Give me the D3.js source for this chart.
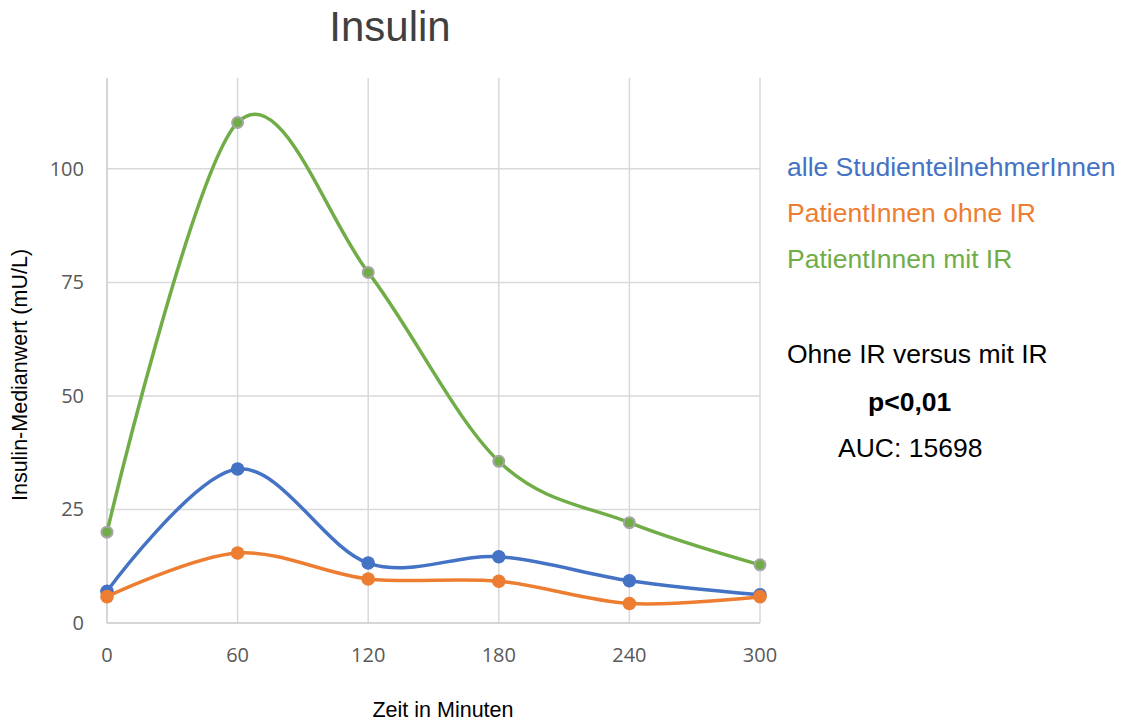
<!DOCTYPE html>
<html>
<head>
<meta charset="utf-8">
<script src="https://cdn.jsdelivr.net/npm/d3@7"></script>
<style>
  body { margin: 0; background: #fff; }
  svg { display: block; }
</style>
</head>
<body>
<svg id="chart" width="1127" height="724"></svg>
<script>
// Daten
const zeiten = [0, 60, 120, 180, 240, 300];
const alle = [7.0, 33.9, 13.2, 14.6, 9.3, 6.2];
const ohneIR = [5.8, 15.4, 9.7, 9.2, 4.3, 5.8];
const mitIR = [20.0, 110.2, 77.2, 35.6, 22.1, 12.8];
const yTicks = [0, 25, 50, 75, 100];
const serienNamen = ["alle StudienteilnehmerInnen", "PatientInnen ohne IR", "PatientInnen mit IR"];

const farben = ["#4472C4", "#ED7D31", "#70AD47"];
const serien = [alle, ohneIR, mitIR];

const svg = d3.select("#chart");
const margin = { top: 78, left: 107, right: 367, bottom: 101 };
const width = 1127, height = 724;
const arial = "'Liberation Sans', Arial, sans-serif";

const x = d3.scaleLinear().domain([0, 300]).range([margin.left, width - margin.right]);
const y = d3.scaleLinear().domain([0, 120]).range([height - margin.bottom, margin.top]);

// Gitterlinien
const grid = svg.append("g");
grid.selectAll("line.h")
  .data(yTicks.filter(d => d > 0))
  .enter().append("line")
  .attr("x1", x(0)).attr("x2", x(300))
  .attr("y1", d => y(d)).attr("y2", d => y(d))
  .attr("stroke", "#d9d9d9").attr("stroke-width", 1.5);
grid.selectAll("line.v")
  .data(zeiten)
  .enter().append("line")
  .attr("x1", d => x(d)).attr("x2", d => x(d))
  .attr("y1", y(0)).attr("y2", y(120))
  .attr("stroke", d => d === 0 ? "#c8c8c8" : "#d9d9d9").attr("stroke-width", 1.5);
grid.append("line")
  .attr("x1", x(0)).attr("x2", x(300))
  .attr("y1", y(0)).attr("y2", y(0))
  .attr("stroke", "#c8c8c8").attr("stroke-width", 1.5);

// Achsenbeschriftungen
const tickFont = "'Open Sans', sans-serif";
svg.append("g").selectAll("text")
  .data(yTicks)
  .enter().append("text")
  .attr("x", 84).attr("y", d => y(d) + 7)
  .attr("text-anchor", "end")
  .attr("font-family", tickFont).attr("font-size", 20)
  .attr("fill", "#595959")
  .text(d => d);
svg.append("g").selectAll("text")
  .data(zeiten)
  .enter().append("text")
  .attr("x", d => x(d)).attr("y", 662)
  .attr("text-anchor", "middle")
  .attr("font-family", tickFont).attr("font-size", 20)
  .attr("fill", "#595959")
  .text(d => d);

// Linien (geglättet wie in Excel)
const linie = d3.line()
  .x((d, i) => x(zeiten[i]))
  .y(d => y(d))
  .curve(d3.curveCardinal.tension(0));

serien.forEach((s, k) => {
  const g = svg.append("g");
  g.append("path")
    .attr("d", linie(s))
    .attr("fill", "none")
    .attr("stroke", farben[k])
    .attr("stroke-width", 3.5)
    .attr("stroke-linecap", "round");
  g.selectAll("circle")
    .data(s)
    .enter().append("circle")
    .attr("cx", (d, i) => x(zeiten[i]))
    .attr("cy", d => y(d))
    .attr("r", k === 2 ? 5.5 : 6.8)
    .attr("fill", farben[k])
    .attr("stroke", k === 2 ? "#a5a5a5" : "none")
    .attr("stroke-width", 2);
});

// Titel
svg.append("text")
  .attr("x", 390).attr("y", 41)
  .attr("text-anchor", "middle")
  .attr("font-family", arial)
  .attr("font-size", 42)
  .attr("fill", "#404040")
  .text("Insulin");

// Achsentitel
svg.append("text")
  .attr("transform", "translate(27,375) rotate(-90)")
  .attr("text-anchor", "middle")
  .attr("font-family", arial)
  .attr("font-size", 21.5)
  .attr("fill", "#000")
  .text("Insulin-Medianwert (mU/L)");
svg.append("text")
  .attr("x", 443).attr("y", 717)
  .attr("text-anchor", "middle")
  .attr("font-family", arial)
  .attr("font-size", 21.5)
  .attr("fill", "#000")
  .text("Zeit in Minuten");

// Legende
svg.append("g").selectAll("text")
  .data(serienNamen)
  .enter().append("text")
  .attr("x", 787).attr("y", (d, i) => 175.5 + i * 46.3)
  .attr("font-family", arial)
  .attr("font-size", 26.5)
  .attr("fill", (d, i) => farben[i])
  .text(d => d);

// Statistik
const stat = svg.append("g")
  .attr("font-family", arial)
  .attr("font-size", 26.5)
  .attr("fill", "#000");
stat.append("text").attr("x", 787).attr("y", 363).text("Ohne IR versus mit IR");
stat.append("text").attr("x", 868).attr("y", 411).attr("font-weight", "bold").text("p<0,01");
stat.append("text").attr("x", 838).attr("y", 457).text("AUC: 15698");
</script>
</body>
</html>
